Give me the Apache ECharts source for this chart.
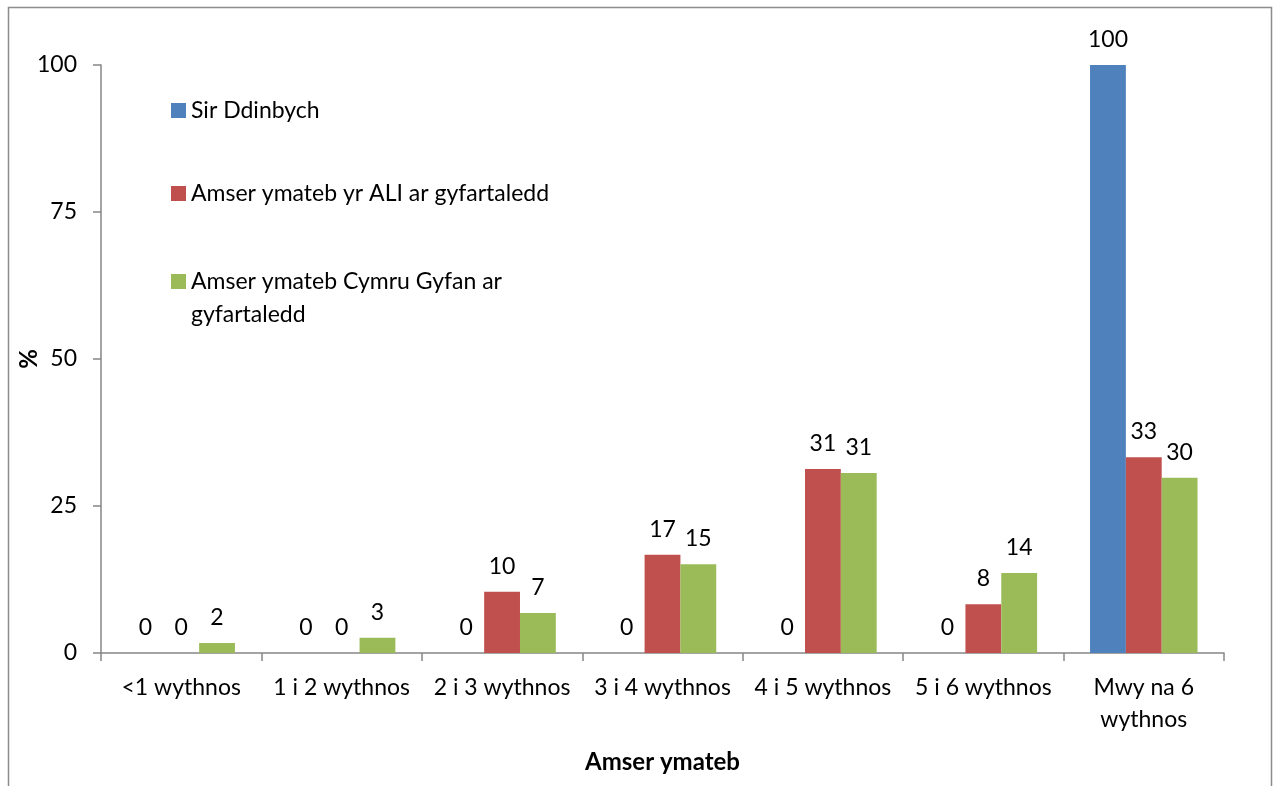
<!DOCTYPE html>
<html>
<head>
<meta charset="utf-8">
<script src="https://cdn.jsdelivr.net/npm/echarts@6/dist/echarts.min.js"></script>
<style>
html,body{margin:0;padding:0;background:#fff;}
#c{width:1274px;height:786px;}
</style>
</head>
<body>
<div id="c"></div>
<script>
const categories = ['<1 wythnos', '1 i 2 wythnos', '2 i 3 wythnos', '3 i 4 wythnos', '4 i 5 wythnos', '5 i 6 wythnos', 'Mwy na 6\nwythnos'];
const seriesNames = ['Sir Ddinbych', 'Amser ymateb yr ALI ar gyfartaledd', 'Amser ymateb Cymru Gyfan ar gyfartaledd'];
const sirDdinbych = [0, 0, 0, 0, 0, 0, 100];
const aliAverage = [0, 0, 10.4, 16.7, 31.3, 8.3, 33.3];
const cymruAverage = [1.7, 2.6, 6.8, 15.1, 30.6, 13.6, 29.8];
const yTicks = [0, 25, 50, 75, 100];
const colors = ['#4F81BD', '#C0504D', '#9BBB59'];
const FONT = 'Lato';
const FS = 23;

const chart = echarts.init(document.getElementById('c'));
const axisColor = '#868686';

function mkSeries(name, data, color) {
  return {
    name: name,
    type: 'bar',
    data: data,
    barGap: '0%',
    barCategoryGap: '33%',
    itemStyle: { color: color },
    label: {
      show: true,
      position: 'top',
      distance: 14,
      fontFamily: FONT,
      fontSize: FS,
      color: '#000',
      formatter: p => String(Math.round(p.value))
    }
  };
}

const legendBase = {
  orient: 'vertical',
  left: 171,
  padding: 0,
  itemWidth: 15,
  itemHeight: 15,
  itemGap: 8,
  icon: 'rect',
  selectedMode: false,
  textStyle: { fontFamily: FONT, fontSize: FS, color: '#000', lineHeight: 33 }
};

chart.setOption({
  animation: false,
  backgroundColor: '#fff',
  color: colors,
  graphic: [{
    type: 'rect',
    shape: { x: 8.5, y: 7.5, width: 1263, height: 820 },
    style: { fill: 'none', stroke: '#8c8c8c', lineWidth: 1.5 },
    silent: true
  }],
  legend: [
    Object.assign({}, legendBase, { top: 94, data: [seriesNames[0]] }),
    Object.assign({}, legendBase, { top: 177, data: [seriesNames[1]] }),
    Object.assign({}, legendBase, {
      top: 232,
      data: [seriesNames[2]],
      formatter: () => '\nAmser ymateb Cymru Gyfan ar\ngyfartaledd'
    })
  ],
  grid: { left: 101, right: 50, top: 65, bottom: 133, containLabel: false },
  xAxis: {
    type: 'category',
    data: categories,
    name: 'Amser ymateb',
    nameLocation: 'middle',
    nameGap: 97,
    nameMoveOverlap: false,
    nameTextStyle: { fontFamily: FONT, fontSize: 24, fontWeight: 'bold', color: '#000' },
    axisLine: { lineStyle: { color: axisColor, width: 1.5 } },
    axisTick: { show: true, length: 8, lineStyle: { color: axisColor, width: 1.5 } },
    axisLabel: { fontFamily: FONT, fontSize: FS, color: '#000', margin: 19, lineHeight: 32, interval: 0 }
  },
  yAxis: {
    type: 'value',
    min: 0,
    max: 100,
    interval: 25,
    name: '%',
    nameLocation: 'middle',
    nameGap: 60,
    nameMoveOverlap: false,
    nameTextStyle: { fontFamily: FONT, fontSize: 24, fontWeight: 'bold', color: '#000' },
    splitLine: { show: false },
    axisLine: { show: true, lineStyle: { color: axisColor, width: 1.5 } },
    axisTick: { show: true, length: 8, lineStyle: { color: axisColor, width: 1.5 } },
    axisLabel: {
      fontFamily: FONT, fontSize: FS, color: '#000', margin: 24,
      formatter: v => yTicks.indexOf(v) >= 0 ? String(v) : ''
    }
  },
  series: [
    mkSeries(seriesNames[0], sirDdinbych, colors[0]),
    mkSeries(seriesNames[1], aliAverage, colors[1]),
    mkSeries(seriesNames[2], cymruAverage, colors[2])
  ]
});
</script>
</body>
</html>
